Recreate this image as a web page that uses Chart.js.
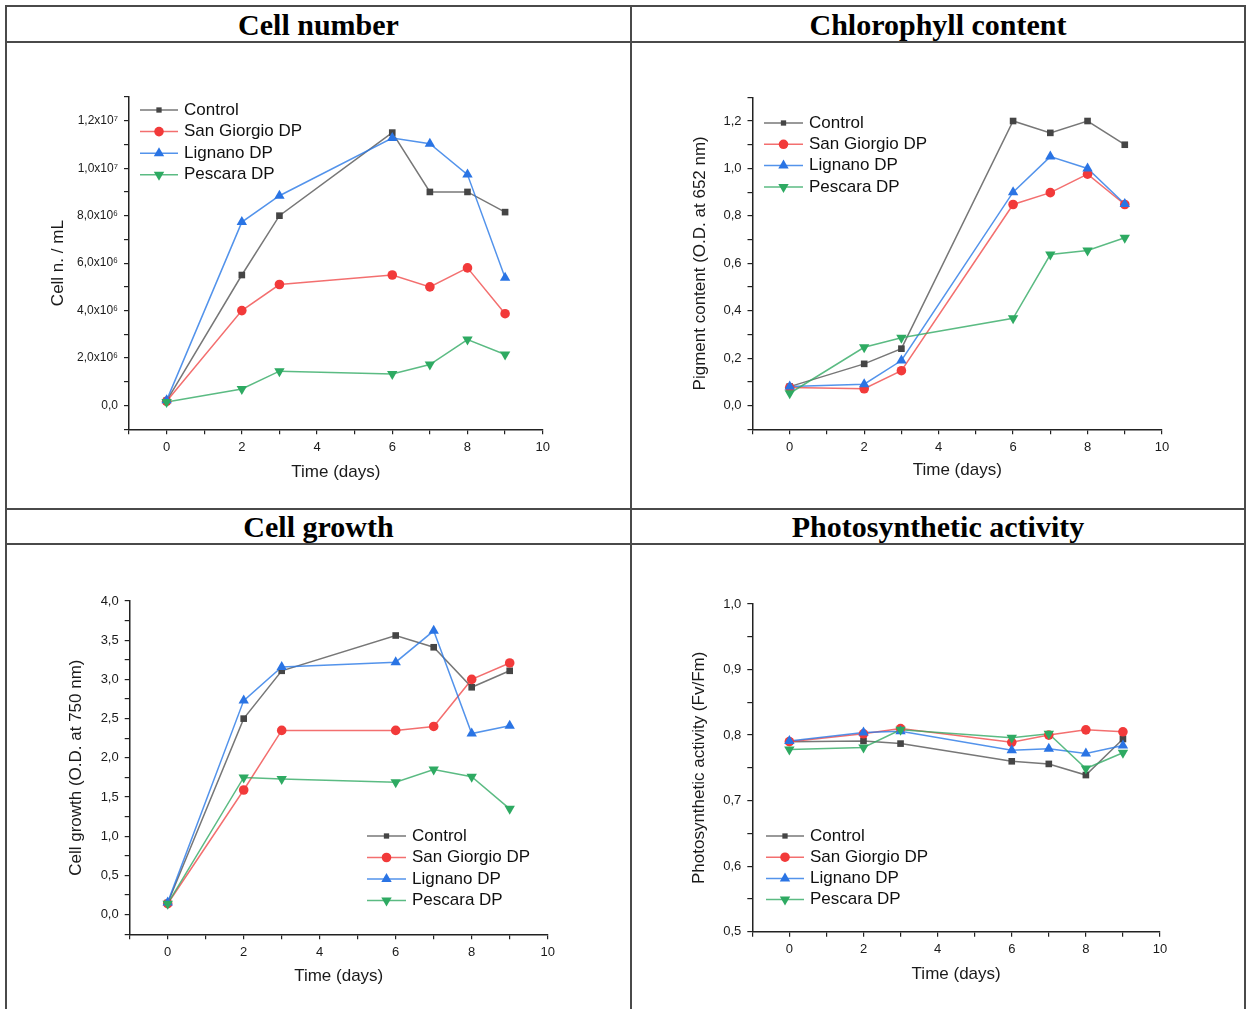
<!DOCTYPE html>
<html><head><meta charset="utf-8">
<script src="https://cdn.jsdelivr.net/npm/chart.js@4"></script>
<style>
html,body{margin:0;padding:0;background:#fff;}
#page{position:relative;width:1248px;height:1009px;overflow:hidden;background:#fff;}
.ln{position:absolute;background:#4a4a4a;}
.title{position:absolute;font-family:"Liberation Serif","Times New Roman",serif;font-weight:bold;font-size:30px;text-align:center;color:#000;line-height:34px;}
canvas{position:absolute;left:0;top:0;}
</style></head>
<body>
<div id="page">
  <div class="ln" style="left:5px;top:5px;width:1241px;height:2px"></div>
  <div class="ln" style="left:5px;top:41px;width:1241px;height:2px"></div>
  <div class="ln" style="left:5px;top:508px;width:1241px;height:2px"></div>
  <div class="ln" style="left:5px;top:543px;width:1241px;height:2px"></div>
  <div class="ln" style="left:5px;top:5px;width:2px;height:1004px"></div>
  <div class="ln" style="left:1244px;top:5px;width:2px;height:1004px"></div>
  <div class="ln" style="left:630px;top:5px;width:2px;height:1004px"></div>
  <div class="title" style="left:7px;top:8px;width:623px">Cell number</div>
  <div class="title" style="left:632px;top:8px;width:612px">Chlorophyll content</div>
  <div class="title" style="left:7px;top:510px;width:623px">Cell growth</div>
  <div class="title" style="left:632px;top:510px;width:612px">Photosynthetic activity</div>
  <canvas id="c1" width="1248" height="1009"></canvas>
  <canvas id="c2" width="1248" height="1009"></canvas>
  <canvas id="c3" width="1248" height="1009"></canvas>
  <canvas id="c4" width="1248" height="1009"></canvas>
</div>
<script>
// ---------- DATA ----------
const days = [0, 2, 3, 6, 7, 8, 9];
const seriesNames = ["Control", "San Giorgio DP", "Lignano DP", "Pescara DP"];

const cellNumControl = [0.2e6, 5.5e6, 8.0e6, 11.5e6, 9.0e6, 9.0e6, 8.15e6];
const cellNumSanGiorgio = [0.18e6, 4.0e6, 5.1e6, 5.5e6, 5.0e6, 5.8e6, 3.87e6];
const cellNumLignano = [0.22e6, 7.73e6, 8.84e6, 11.27e6, 11.03e6, 9.73e6, 5.38e6];
const cellNumPescara = [0.15e6, 0.7e6, 1.45e6, 1.33e6, 1.73e6, 2.78e6, 2.15e6];

const chlControl = [0.08, 0.176, 0.24, 1.2, 1.15, 1.2, 1.1];
const chlSanGiorgio = [0.076, 0.071, 0.147, 0.848, 0.898, 0.976, 0.848];
const chlLignano = [0.08, 0.09, 0.19, 0.90, 1.05, 1.0, 0.85];
const chlPescara = [0.052, 0.246, 0.286, 0.368, 0.637, 0.654, 0.708];

const growthControl = [0.15, 2.50, 3.11, 3.56, 3.41, 2.90, 3.11];
const growthSanGiorgio = [0.14, 1.59, 2.35, 2.35, 2.40, 3.00, 3.21];
const growthLignano = [0.157, 2.73, 3.16, 3.22, 3.62, 2.31, 2.41];
const growthPescara = [0.14, 1.75, 1.73, 1.69, 1.85, 1.76, 1.35];

const photoControl = [0.790, 0.791, 0.787, 0.760, 0.756, 0.739, 0.794];
const photoSanGiorgio = [0.790, 0.802, 0.810, 0.789, 0.800, 0.808, 0.805];
const photoLignano = [0.791, 0.804, 0.806, 0.777, 0.779, 0.772, 0.784];
const photoPescara = [0.778, 0.781, 0.808, 0.796, 0.802, 0.749, 0.773];

const xTickLabels = ["0", "2", "4", "6", "8", "10"];

// ---------- STYLE ----------
const FONT = '"Liberation Sans", Arial, sans-serif';
Chart.defaults.font.family = FONT;
Chart.defaults.color = '#1a1a1a';

const styles = [
  {line: 'rgba(85,85,85,0.8)', fill: '#454545', shape: 'square', r: 4.6},
  {line: 'rgba(240,75,75,0.8)', fill: '#f23a3a', shape: 'circle', r: 4.8},
  {line: 'rgba(40,120,230,0.8)', fill: '#2a74e4', shape: 'tri', r: 6},
  {line: 'rgba(50,170,100,0.8)', fill: '#2eaa62', shape: 'itri', r: 6}
];

function marker(ctx, shape, x, y, r, color) {
  ctx.fillStyle = color;
  ctx.beginPath();
  if (shape === 'square') {
    const s = r * 0.72;
    ctx.rect(x - s, y - s, 2 * s, 2 * s);
  } else if (shape === 'circle') {
    ctx.arc(x, y, r, 0, Math.PI * 2);
  } else if (shape === 'tri') {
    ctx.moveTo(x, y - r);
    ctx.lineTo(x + r * 0.866, y + r * 0.5);
    ctx.lineTo(x - r * 0.866, y + r * 0.5);
    ctx.closePath();
  } else {
    ctx.moveTo(x, y + r);
    ctx.lineTo(x + r * 0.866, y - r * 0.5);
    ctx.lineTo(x - r * 0.866, y - r * 0.5);
    ctx.closePath();
  }
  ctx.fill();
}

// draws markers on top of lines (library positions via meta elements) + inline legend
const markerPlugin = {
  id: 'markers',
  afterDatasetsDraw(chart) {
    const ctx = chart.ctx;
    ctx.save();
    const n = chart.data.datasets.length;
    for (let i = 0; i < n; i++) {
      const meta = chart.getDatasetMeta(i);
      const st = styles[i];
      meta.data.forEach(pt => marker(ctx, st.shape, pt.x, pt.y, st.r, st.fill));
    }
    ctx.restore();
  },
  afterDraw(chart, args, opts) {
    if (!opts || opts.x === undefined) return;
    const ctx = chart.ctx;
    ctx.save();
    chart.data.datasets.forEach((ds, i) => {
      const st = styles[i];
      const y = opts.y + i * opts.rowH;
      ctx.strokeStyle = st.line;
      ctx.lineWidth = 1.5;
      ctx.beginPath();
      ctx.moveTo(opts.x, y);
      ctx.lineTo(opts.x + opts.len, y);
      ctx.stroke();
      marker(ctx, st.shape, opts.x + opts.len / 2, y, i === 0 ? st.r * 0.8 : st.r, st.fill);
      ctx.fillStyle = '#111';
      ctx.font = '17px ' + FONT;
      ctx.textBaseline = 'middle';
      ctx.textAlign = 'left';
      ctx.fillText(ds.label, opts.x + opts.len + 6, y);
    });
    ctx.restore();
  }
};

const SUP = {'0':'⁰','1':'¹','2':'²','3':'³','4':'⁴','5':'⁵','6':'⁶','7':'⁷','8':'⁸','9':'⁹'};
function sciFmt(v) {
  if (Math.abs(v) < 1e-9) return '0,0';
  const e = Math.floor(Math.log10(v) + 1e-9);
  const m = v / Math.pow(10, e);
  return m.toFixed(1).replace('.', ',') + 'x10' + String(e).split('').map(c => SUP[c]).join('');
}
function decFmt(v) { return v.toFixed(1).replace('.', ','); }

function makeTicks(min, max, step) {
  const n = Math.round((max - min) / step);
  const arr = [];
  for (let i = 0; i <= n; i++) arr.push({value: +(min + i * step).toFixed(8)});
  return arr;
}
function isMult(v, every) { const q = v / every; return Math.abs(q - Math.round(q)) < 1e-6; }

function makeChart(id, vals, cfg) {
  const datasets = vals.map((arr, i) => ({
    label: seriesNames[i],
    data: days.map((d, k) => ({x: d, y: arr[k]})),
    borderColor: styles[i].line,
    borderWidth: 1.5,
    pointRadius: 0,
    tension: 0,
    fill: false,
    order: 3 - i
  }));
  const gridOpt = {drawOnChartArea: false, drawTicks: true, tickLength: 5, color: '#222', lineWidth: 1.2};
  const borderOpt = {display: true, color: '#222', width: 1.5};
  return new Chart(document.getElementById(id), {
    type: 'line',
    data: {datasets},
    plugins: [markerPlugin],
    options: {
      responsive: false,
      animation: false,
      devicePixelRatio: 1,
      layout: {padding: cfg.pad},
      plugins: {legend: {display: false}, tooltip: {enabled: false}, markers: cfg.legend},
      scales: {
        x: {
          type: 'linear', position: 'bottom', min: -1, max: 10,
          afterBuildTicks: s => { s.ticks = makeTicks(-1, 10, 1); },
          afterFit: s => { s.height = cfg.xH; },
          grid: gridOpt, border: borderOpt,
          ticks: {
            autoSkip: false, maxRotation: 0, padding: 5,
            font: {size: 13}, color: '#1a1a1a',
            callback: v => (v >= 0 && isMult(v, 2)) ? xTickLabels[Math.round(v / 2)] : ''
          },
          title: {display: true, text: 'Time (days)', font: {size: 17}, color: '#1a1a1a', padding: 0}
        },
        y: {
          type: 'linear', position: 'left', min: cfg.ymin, max: cfg.ymax,
          afterBuildTicks: s => { s.ticks = makeTicks(cfg.ymin, cfg.ymax, cfg.ystep); },
          afterFit: s => { s.width = cfg.yW; },
          grid: gridOpt, border: borderOpt,
          ticks: {
            autoSkip: false, padding: 6,
            font: {size: cfg.yFont || 13}, color: '#1a1a1a',
            callback: v => (v >= -1e-9 && isMult(v, cfg.yevery)) ? cfg.fmt(v) : ''
          },
          title: {display: true, text: cfg.ytitle, font: {size: 17}, color: '#1a1a1a', padding: 0}
        }
      }
    }
  });
}

makeChart('c1', [cellNumControl, cellNumSanGiorgio, cellNumLignano, cellNumPescara], {
  pad: {left: 47.8, top: 97, right: 705.3, bottom: 526.8}, yW: 81.2, xH: 52.9, yFont: 12,
  ymin: -1e6, ymax: 1.3e7, ystep: 1e6, yevery: 2e6, fmt: sciFmt, ytitle: 'Cell n. / mL',
  legend: {x: 140, y: 110, rowH: 21.6, len: 38}
});
makeChart('c2', [chlControl, chlSanGiorgio, chlLignano, chlPescara], {
  pad: {left: 690.5, top: 97.3, right: 86, bottom: 528.8}, yW: 62, xH: 50.9,
  ymin: -0.1, ymax: 1.3, ystep: 0.1, yevery: 0.2, fmt: decFmt, ytitle: 'Pigment content (O.D. at 652 nm)',
  legend: {x: 764, y: 123, rowH: 21.3, len: 39}
});
makeChart('c3', [growthControl, growthSanGiorgio, growthLignano, growthPescara], {
  pad: {left: 66.5, top: 601, right: 700.3, bottom: 22.1}, yW: 63.2, xH: 52.6,
  ymin: -0.25, ymax: 4.0, ystep: 0.25, yevery: 0.5, fmt: decFmt, ytitle: 'Cell growth (O.D. at 750 nm)',
  legend: {x: 367, y: 836, rowH: 21.5, len: 39}
});
makeChart('c4', [photoControl, photoSanGiorgio, photoLignano, photoPescara], {
  pad: {left: 689.1, top: 604, right: 88, bottom: 24.8}, yW: 63.2, xH: 52.5,
  ymin: 0.5, ymax: 1.0, ystep: 0.05, yevery: 0.1, fmt: decFmt, ytitle: 'Photosynthetic activity (Fv/Fm)',
  legend: {x: 766, y: 836, rowH: 21.2, len: 38}
});
</script>
</body></html>
